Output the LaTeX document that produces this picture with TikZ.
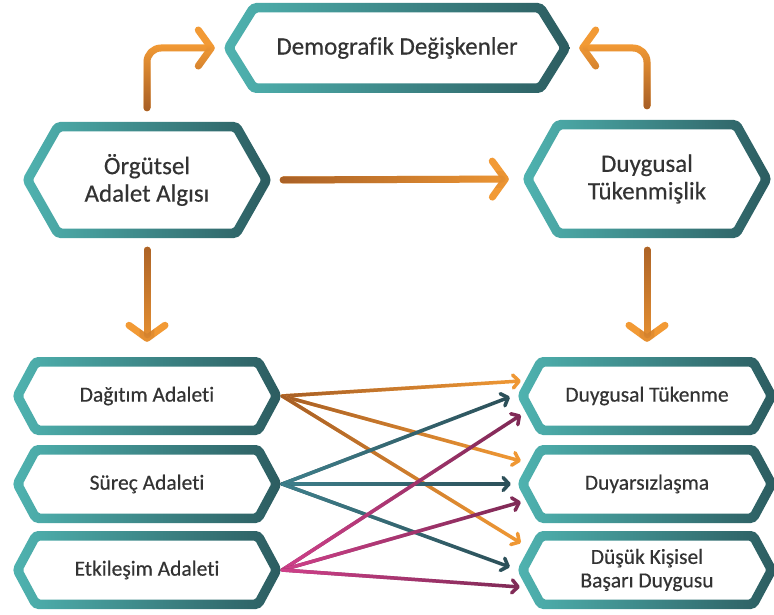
\documentclass[tikz,border=0pt]{standalone}
\usepackage{fontspec}
\setmainfont{Carlito}[Ligatures=NoCommon, FakeBold=0.4]
\usetikzlibrary{arrows.meta,calc,fadings}
\definecolor{tealL}{HTML}{4FB3B0}
\definecolor{tealD}{HTML}{2C5C60}
\definecolor{orng}{HTML}{F29A35}
\definecolor{brwn}{HTML}{A65E26}
\definecolor{navyE}{HTML}{2C4F58}
\definecolor{navyS}{HTML}{3E808C}
\definecolor{magS}{HTML}{D0408A}
\definecolor{magE}{HTML}{7E2A55}
\definecolor{txt}{HTML}{333333}
\tikzfading[name=fadeR, left color=transparent!0, right color=transparent!100]
\tikzfading[name=fadeUp, top color=transparent!100, bottom color=transparent!0]
\tikzfading[name=fadeDown, top color=transparent!0, bottom color=transparent!100]
\def\ringT{9.5}
\newcommand\hexring[4]{%
  \pgfmathsetmacro\hxD{\ringT*sqrt(#4*#4+#3*#3)/#3}%
  \pgfmathsetmacro\hxWi{#2-\hxD}%
  \pgfmathsetmacro\hxHi{#3-\ringT}%
  \pgfmathsetmacro\hxCi{#2-\hxD-#4*(#3-\ringT)/#3}%
  \pgfmathsetmacro\hxCo{#2-#4}%
  \shade[left color=tealL, right color=tealD, even odd rule, rounded corners=5pt]
    ($(#1.center)+(-#2,0)$) -- ($(#1.center)+(-\hxCo,-#3)$) -- ($(#1.center)+(\hxCo,-#3)$)
    -- ($(#1.center)+(#2,0)$) -- ($(#1.center)+(\hxCo,#3)$) -- ($(#1.center)+(-\hxCo,#3)$) -- cycle
    [rounded corners=1.5pt]
    ($(#1.center)+(-\hxWi,0)$) -- ($(#1.center)+(-\hxCi,-\hxHi)$) -- ($(#1.center)+(\hxCi,-\hxHi)$)
    -- ($(#1.center)+(\hxWi,0)$) -- ($(#1.center)+(\hxCi,\hxHi)$) -- ($(#1.center)+(-\hxCi,\hxHi)$) -- cycle;
}
\tikzset{
  bigtxt/.style={font=\fontsize{25}{27.5}\selectfont, text=txt, align=center, inner sep=0pt},
  smalltxt/.style={font=\fontsize{21.5}{23.5}\selectfont, text=txt, align=center, inner sep=0pt},
  bigarrow/.style={draw=orng, line width=7pt, line cap=round, line join=round,
    -{Straight Barb[length=13pt,width=36pt,line cap=round,line join=round]}},
  crossarrow/.style={line width=3.5pt, line cap=round, line join=round,
    -{Straight Barb[length=6pt,width=13pt,line cap=round,line join=round]}},
  orangeA/.style={crossarrow, draw=orng, postaction={draw=brwn, path fading=fadeR}},
  navyA/.style={crossarrow, draw=navyE, postaction={draw=navyS, path fading=fadeR}},
  magA/.style={crossarrow, draw=magE, postaction={draw=magS, path fading=fadeR}},
}
\begin{document}
\begin{tikzpicture}[x=1pt,y=-1pt]
\useasboundingbox[fill=white] (0,0) rectangle (774,615);
% nodes
\node[bigtxt, minimum width=348pt, minimum height=90pt] (demo) at (397,48) {Demografik Değişkenler};
\node[bigtxt, minimum width=250pt, minimum height=116pt] (org) at (147,180) {Örgütsel\\Adalet Algısı};
\node[bigtxt, minimum width=250pt, minimum height=118pt] (duy) at (647,179) {Duygusal\\Tükenmişlik};
\node[smalltxt, minimum width=270pt, minimum height=78pt] (dag) at (147,396) {Dağıtım Adaleti};
\node[smalltxt, minimum width=270pt, minimum height=78pt] (sur) at (147,484) {Süreç Adaleti};
\node[smalltxt, minimum width=270pt, minimum height=78pt] (etk) at (147,570) {Etkileşim Adaleti};
\node[smalltxt, minimum width=260pt, minimum height=78pt] (dt) at (647,396) {Duygusal Tükenme};
\node[smalltxt, minimum width=260pt, minimum height=78pt] (dy) at (647,484) {Duyarsızlaşma};
\node[smalltxt, minimum width=260pt, minimum height=78pt] (dk) at (647,570) {Düşük Kişisel\\Başarı Duygusu};
% rings
\hexring{demo}{174}{45}{28}
\hexring{org}{125}{58}{33}
\hexring{duy}{125}{59}{33}
\hexring{dag}{135}{39}{21}
\hexring{sur}{135}{39}{21}
\hexring{etk}{135}{39}{21}
\hexring{dt}{130}{39}{21}
\hexring{dy}{130}{39}{21}
\hexring{dk}{130}{39}{21}
% big arrows
\draw[bigarrow, rounded corners=14pt, shorten >=8pt, postaction={draw=brwn, path fading=fadeUp}]
  ([yshift=14pt]org.north) |- (demo.west);
\draw[bigarrow, rounded corners=14pt, shorten >=8pt, postaction={draw=brwn, path fading=fadeUp}]
  ([yshift=14pt]duy.north) |- (demo.east);
\draw[bigarrow, shorten <=11pt, shorten >=13pt, postaction={draw=brwn, path fading=fadeR}]
  (org.east) -- (duy.west);
\draw[bigarrow, shorten <=12pt, shorten >=15pt, postaction={draw=brwn, path fading=fadeDown}]
  (org.south) -- (dag.north);
\draw[bigarrow, shorten <=12pt, shorten >=15pt, postaction={draw=brwn, path fading=fadeDown}]
  (duy.south) -- (dt.north);
% cross arrows
\draw[orangeA] (dag.east) -- ($(dt.west)+(4,-15)$);
\draw[orangeA] (dag.east) -- ($(dy.west)+(4,-23)$);
\draw[orangeA] (dag.east) -- ($(dk.west)+(4,-27)$);
\draw[navyA] (sur.east) -- ($(dt.west)+(-7,1)$);
\draw[navyA] (sur.east) -- ($(dy.west)+(-6,0)$);
\draw[navyA] (sur.east) -- ($(dk.west)+(-7,-3)$);
\draw[magA] (etk.east) -- ($(dt.west)+(4,19)$);
\draw[magA] (etk.east) -- ($(dy.west)+(4,18)$);
\draw[magA] (etk.east) -- ($(dk.west)+(3,17)$);
\end{tikzpicture}
\end{document}
